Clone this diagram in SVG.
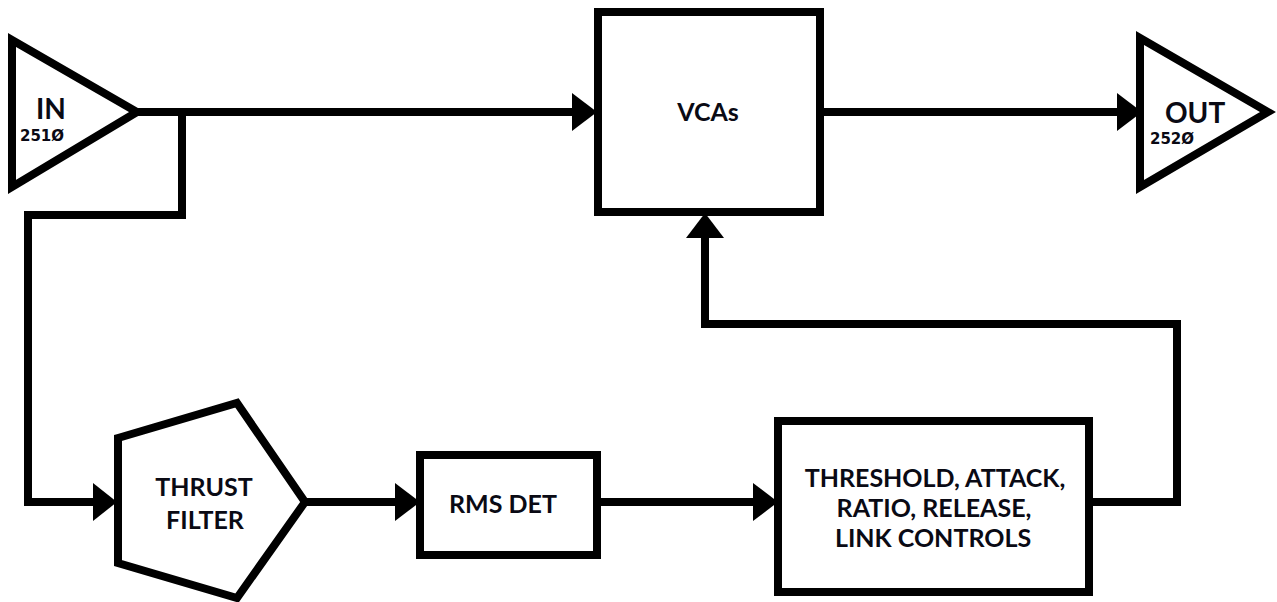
<svg xmlns="http://www.w3.org/2000/svg" width="1277" height="602" viewBox="0 0 1277 602">
<style>
.shape{fill:#fff;stroke:#000;stroke-width:8;stroke-linejoin:miter}
.wire{fill:none;stroke:#000;stroke-width:8;stroke-linejoin:miter;stroke-linecap:butt}
.head{fill:#000;stroke:none}
.lbl{font-family:Lato,"Open Sans","Liberation Sans",sans-serif;font-weight:700;fill:#0a0a14;text-anchor:middle}
.big{font-size:25px}
.io{font-family:Lato,"Liberation Sans",sans-serif;font-weight:700;fill:#0a0a14;font-size:28px}
.num{font-family:"DejaVu Sans","Liberation Sans",sans-serif;font-weight:700;fill:#0a0a14;font-size:15px}
</style>
<rect width="1277" height="602" fill="#fff"/>
<g id="connectors">
  <path class="wire" d="M137,112 H574"/>
  <polygon class="head" points="572,93 597,112 572,131"/>
  <path class="wire" d="M182,112 V215 H28 V502 H96"/>
  <polygon class="head" points="93,483 117,502 93,521"/>
  <path class="wire" d="M305,502 H397"/>
  <polygon class="head" points="395,483 420,502 395,521"/>
  <path class="wire" d="M597,502 H755"/>
  <polygon class="head" points="753,483 778,502 753,521"/>
  <path class="wire" d="M1089,502 H1177 V324 H705 V236"/>
  <polygon class="head" points="686,238 705,213 724,238"/>
  <path class="wire" d="M820,112 H1119"/>
  <polygon class="head" points="1117,93 1142,112 1117,131"/>
</g>
<g id="in">
  <polygon class="shape" points="12,40 137,112 12,187"/>
  <text class="io" x="36" y="119">IN</text>
  <text class="num" x="20" y="141">251Ø</text>
</g>
<g id="vcas">
  <rect class="shape" x="598" y="12" width="222" height="200"/>
  <text class="lbl big" x="708" y="121">VCAs</text>
</g>
<g id="out">
  <polygon class="shape" points="1140,38 1268,112 1140,187"/>
  <text class="io" x="1165" y="123">OUT</text>
  <text class="num" x="1150" y="144">252Ø</text>
</g>
<g id="thrust-filter">
  <polygon class="shape" points="118,438 237,403 305,502 237,598 118,563"/>
  <text class="lbl big" x="204" y="496">THRUST</text>
  <text class="lbl big" x="205" y="529">FILTER</text>
</g>
<g id="rms-det">
  <rect class="shape" x="420" y="455" width="177" height="100"/>
  <text class="lbl big" x="503" y="513">RMS DET</text>
</g>
<g id="controls">
  <rect class="shape" x="778" y="421" width="311" height="171"/>
  <text class="lbl big" x="935" y="487">THRESHOLD, ATTACK,</text>
  <text class="lbl big" x="934" y="517">RATIO, RELEASE,</text>
  <text class="lbl big" x="933" y="547">LINK CONTROLS</text>
</g>
</svg>
